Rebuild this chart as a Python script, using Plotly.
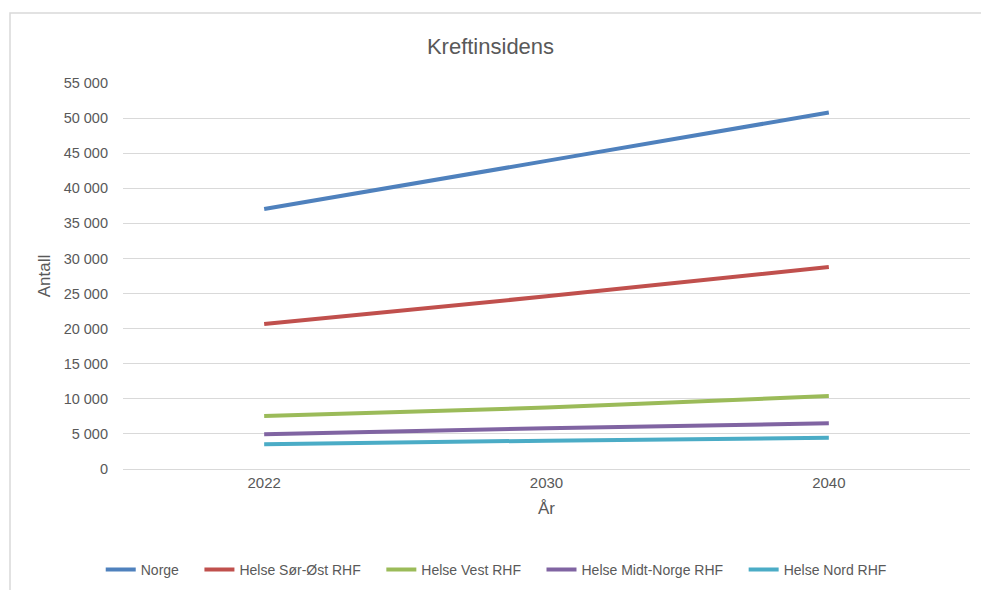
import plotly.graph_objects as go

years = ["2022", "2030", "2040"]
series_names = ["Norge", "Helse Sør-Øst RHF", "Helse Vest RHF", "Helse Midt-Norge RHF", "Helse Nord RHF"]
norge = [37050, 43900, 50800]
sor_ost = [20660, 24600, 28780]
vest = [7550, 8750, 10400]
midt = [4950, 5800, 6520]
nord = [3520, 4040, 4460]
colors = ["#4F81BD", "#C0504D", "#9BBB59", "#8064A2", "#4BACC6"]
y_ticks = list(range(0, 55001, 5000))
y_tick_labels = [f"{v:,}".replace(",", " ") for v in y_ticks]

fig = go.Figure()
for name, vals, col in zip(series_names, [norge, sor_ost, vest, midt, nord], colors):
    fig.add_trace(go.Scatter(x=years, y=vals, name=name + "\u00a0" * 4, mode="lines",
                             line=dict(color=col, width=4, shape="spline", smoothing=0.6)))

font_family = "Liberation Sans, Arial"
W, H = 981, 590
ml, mr, mt, mb = 123, 11, 83, 121
pw, ph = W - ml - mr, H - mt - mb

fig.update_layout(
    width=W, height=H,
    margin=dict(l=ml, r=mr, t=mt, b=mb),
    paper_bgcolor="white", plot_bgcolor="white",
    font=dict(family=font_family, color="#595959", size=14),
    title=dict(text="Kreftinsidens", x=0.5, xref="container", xanchor="center",
               y=1 - 46 / H, yref="container", yanchor="middle",
               font=dict(size=22, color="#595959", family=font_family)),
    showlegend=True,
    legend=dict(orientation="h", xref="container", x=0.514, xanchor="center",
                yref="container", y=1 - 570 / H, yanchor="middle",
                font=dict(size=14, color="#595959"), tracegroupgap=0),
    xaxis=dict(type="category", range=[-0.5, 2.5], showgrid=False, showline=True,
               linecolor="#d9d9d9", linewidth=1, ticks="", tickfont=dict(size=15),
               title=dict(text="År", font=dict(size=17), standoff=12)),
    yaxis=dict(range=[0, 55000], tickvals=y_ticks, ticktext=y_tick_labels,
               showgrid=True, gridcolor="#d9d9d9", gridwidth=1, zeroline=False,
               showline=False, ticks="", ticklabelstandoff=14, tickfont=dict(size=14.5),
               title=dict(text="Antall", font=dict(size=17), standoff=8)),
)

# chart-area border (paper coordinates derived from pixels)
x0 = (10 - ml) / pw
x1 = (985 - ml) / pw
y0 = (H - mb - 595) / ph
y1 = (H - mb - 13) / ph
fig.add_shape(type="rect", xref="paper", yref="paper", x0=x0, x1=x1, y0=y0, y1=y1,
              line=dict(color="#d9d9d9", width=1.5), fillcolor="rgba(0,0,0,0)", layer="below")

fig.write_html("out.html")
